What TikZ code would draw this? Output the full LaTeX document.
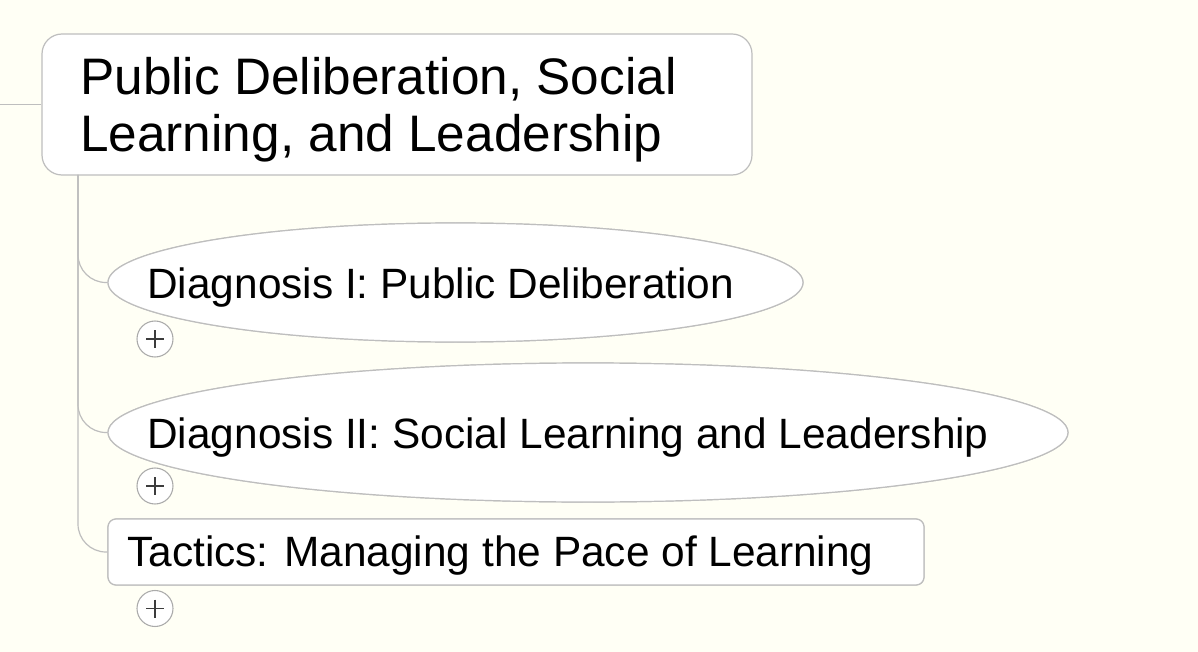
\documentclass[tikz,border=0pt]{standalone}
\usepackage{fontspec}
\setmainfont{Liberation Sans}
\usetikzlibrary{shapes.geometric}
\definecolor{bgc}{RGB}{255,255,245}
\definecolor{edgec}{RGB}{190,190,190}
\definecolor{plusc}{RGB}{170,170,170}
\definecolor{plusd}{RGB}{60,60,60}
\tikzset{
  conn/.style={draw=edgec, line width=0.9pt, rounded corners=21pt},
  rootbox/.style={draw=edgec, fill=white, line width=0.9pt, rounded corners=15pt, minimum width=532.5pt, minimum height=105.75pt, inner sep=0pt},
  ellbox/.style={ellipse, draw=edgec, fill=white, line width=0.9pt, inner sep=0pt},
  tacbox/.style={draw=edgec, fill=white, line width=0.9pt, rounded corners=6pt, minimum width=612pt, minimum height=49.5pt, inner sep=0pt},
  txt/.style={anchor=base west, inner sep=0pt, font=\fontsize{31.8pt}{38pt}\selectfont},
  roottxt/.style={anchor=base west, inner sep=0pt, font=\fontsize{38.5pt}{42.75pt}\selectfont, align=left},
  plusbtn/.style={circle, draw=plusc, fill=white, line width=0.8pt, minimum size=27pt, inner sep=0pt},
  plusline/.style={draw=plusd, line width=0.8pt}
}
\begin{document}
\begin{tikzpicture}[x=0.75pt, y=-0.75pt]
\fill[bgc] (0,0) rectangle (1198,652);
\useasboundingbox (0,0) rectangle (1198,652);
% root
\node[rootbox] (root) at (397,104.5) {};
\node[roottxt] (roottext) at (80,152) {Public Deliberation, Social\\Learning, and Leadership};
\coordinate (lf) at (0,104.5);
\draw[draw=edgec, line width=0.9pt] (lf) -- (root.west);
\coordinate (rb) at (78,175);
% children
\node[ellbox, minimum width=521.25pt, minimum height=89.25pt] (e1) at (455.5,282.5) {};
\node[ellbox, minimum width=720pt, minimum height=104.25pt] (e2) at (588,432.5) {};
\node[tacbox] (tac) at (516,552) {};
\draw[conn] (rb) |- (e1.west);
\draw[conn] (rb) |- (e2.west);
\draw[conn] (rb) |- (tac.west);
\node[ellbox, minimum width=521.25pt, minimum height=89.25pt] (e1b) at (455.5,282.5) {};
\node[ellbox, minimum width=720pt, minimum height=104.25pt] (e2b) at (588,432.5) {};
\node[tacbox] (tacb) at (516,552) {};
\node[txt] (t1) at (147,298) {Diagnosis I: Public Deliberation};
\node[txt] (t2) at (147,448) {Diagnosis II: Social Learning and Leadership};
\node[txt] (t3) at (127,566) {Tactics: Managing the Pace of Learning};
% plus buttons
\foreach \n/\yy in {p1/339, p2/486, p3/608.5}{
  \node[plusbtn] (\n) at (155,\yy) {};
  \draw[plusline] (\n.center) +(-9,0) -- +(9,0);
  \draw[plusline] (\n.center) +(0,-9) -- +(0,9);
}
\end{tikzpicture}
\end{document}
